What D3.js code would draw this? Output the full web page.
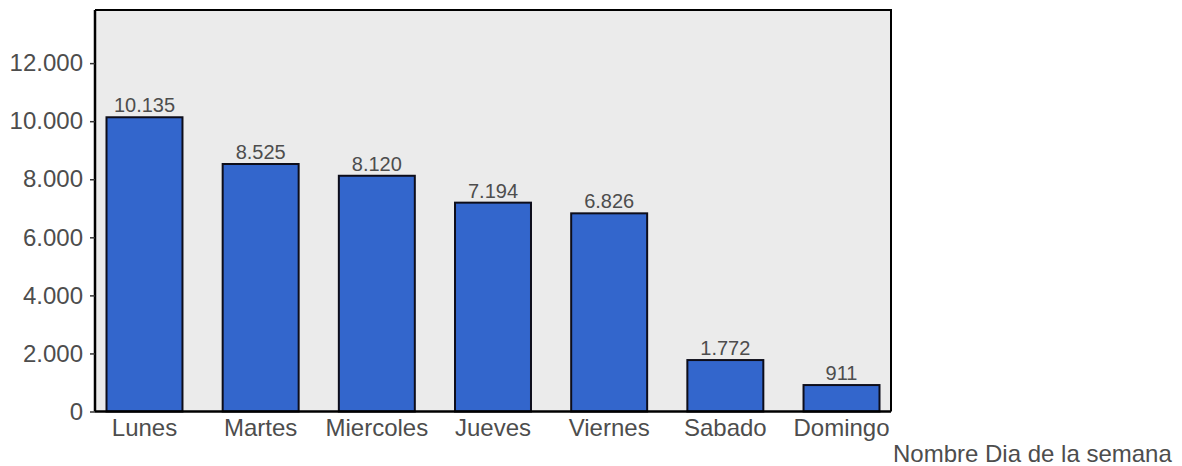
<!DOCTYPE html>
<html>
<head>
<meta charset="utf-8">
<script src="https://cdn.jsdelivr.net/npm/d3@7"></script>
<style>
  html, body { margin: 0; padding: 0; background: #ffffff; }
  svg { display: block; font-family: "Liberation Sans", Arial, sans-serif; }
</style>
</head>
<body>
<svg id="chart" width="1182" height="466"></svg>
<script>
const categories = ["Lunes", "Martes", "Miercoles", "Jueves", "Viernes", "Sabado", "Domingo"];
const values = [10135, 8525, 8120, 7194, 6826, 1772, 911];
const yTicks = [0, 2000, 4000, 6000, 8000, 10000, 12000];
const xTitle = "Nombre Dia de la semana";
const yMax = 13830;

const W = 1182, H = 466;
const plot = { left: 95, right: 891, top: 10, bottom: 411.5 };

const svg = d3.select("#chart");
const loc = d3.formatLocale({ decimal: ",", thousands: ".", grouping: [3], currency: ["", "€"] });
const fmt = loc.format(",d");

const x = d3.scaleBand().domain(categories).range([plot.left, plot.right])
  .paddingInner(0.346).paddingOuter(0.099);
const y = d3.scaleLinear().domain([0, yMax]).range([plot.bottom, plot.top]);

// background
svg.append("rect")
  .attr("x", plot.left).attr("y", plot.top)
  .attr("width", plot.right - plot.left).attr("height", plot.bottom - plot.top)
  .attr("fill", "#ebebeb");

// bars
svg.append("g").selectAll("rect").data(values).join("rect")
  .attr("x", (d, i) => x(categories[i]))
  .attr("y", d => y(d))
  .attr("width", x.bandwidth())
  .attr("height", d => y(0) - y(d))
  .attr("fill", "#3366cc")
  .attr("stroke", "#0d0d1a")
  .attr("stroke-width", 2);

// value labels
svg.append("g").selectAll("text").data(values).join("text")
  .attr("x", (d, i) => x(categories[i]) + x.bandwidth() / 2)
  .attr("y", d => y(d) - 5)
  .attr("text-anchor", "middle")
  .attr("font-size", 20)
  .attr("fill", "#4d4d4d")
  .text(d => fmt(d));

// frame (top and right)
svg.append("path")
  .attr("d", `M${plot.left},${plot.top}H${plot.right}V${plot.bottom}`)
  .attr("fill", "none").attr("stroke", "#000").attr("stroke-width", 2);

// y axis
const yAxis = svg.append("g").attr("transform", `translate(${plot.left},0)`)
  .call(d3.axisLeft(y).tickValues(yTicks).tickFormat(fmt).tickSize(5).tickPadding(7));
yAxis.select(".domain").attr("stroke", "#000").attr("stroke-width", 2.5)
  .attr("d", `M0,${plot.top}V${plot.bottom}`);
yAxis.selectAll(".tick line").attr("stroke", "#333").attr("stroke-width", 1.5);
yAxis.selectAll(".tick text").attr("font-size", 24).attr("fill", "#4d4d4d")
  .attr("font-family", "Liberation Sans, Arial, sans-serif");

// x axis
const xAxis = svg.append("g").attr("transform", `translate(0,${plot.bottom})`)
  .call(d3.axisBottom(x).tickSize(0).tickPadding(7));
xAxis.select(".domain").attr("stroke", "#000").attr("stroke-width", 2.5)
  .attr("d", `M${plot.left},0H${plot.right}`);
xAxis.selectAll(".tick text").attr("font-size", 24).attr("fill", "#4d4d4d")
  .attr("font-family", "Liberation Sans, Arial, sans-serif");

// x title
svg.append("text")
  .attr("x", plot.right + 2).attr("y", 462)
  .attr("font-size", 24).attr("fill", "#4d4d4d")
  .text(xTitle);
</script>
</body>
</html>
